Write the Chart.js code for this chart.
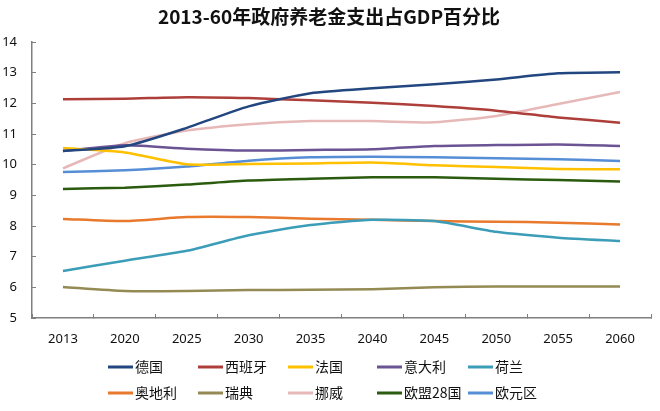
<!DOCTYPE html>
<html>
<head>
<meta charset="utf-8">
<script src="https://cdn.jsdelivr.net/npm/chart.js@4"></script>
<style>
  body { margin: 0; background: #fff; }
  canvas { display: block; }
</style>
</head>
<body>
<canvas id="chart" width="660" height="411"></canvas>
<script>
const years = ['2013', '2020', '2025', '2030', '2035', '2040', '2045', '2050', '2055', '2060'];
const seriesNames = ['德国', '西班牙', '法国', '意大利', '荷兰', '奥地利', '瑞典', '挪威', '欧盟28国', '欧元区'];

const germany = [10.45, 10.6, 11.2, 11.9, 12.33, 12.49, 12.62, 12.78, 12.98, 13.01];
const spain = [12.13, 12.15, 12.2, 12.17, 12.1, 12.02, 11.91, 11.76, 11.54, 11.37];
const france = [10.54, 10.4, 10.01, 10.02, 10.04, 10.07, 9.98, 9.92, 9.86, 9.85];
const italy = [10.44, 10.63, 10.52, 10.46, 10.48, 10.5, 10.61, 10.64, 10.66, 10.61];
const netherlands = [6.53, 6.87, 7.19, 7.7, 8.03, 8.2, 8.16, 7.81, 7.62, 7.51];
const austria = [8.23, 8.16, 8.29, 8.29, 8.24, 8.2, 8.16, 8.14, 8.11, 8.05];
const sweden = [6.01, 5.88, 5.88, 5.91, 5.92, 5.94, 6.0, 6.03, 6.03, 6.03];
const norway = [9.88, 10.7, 11.11, 11.32, 11.42, 11.42, 11.38, 11.59, 11.98, 12.37];
const eu28 = [9.21, 9.25, 9.35, 9.48, 9.54, 9.59, 9.59, 9.54, 9.5, 9.45];
const euroArea = [9.76, 9.82, 9.94, 10.13, 10.24, 10.26, 10.24, 10.21, 10.18, 10.12];

const yMin = 5;
const yMax = 14;
const titleText = '2013-60年政府养老金支出占GDP百分比';

const allSeries = [germany, spain, france, italy, netherlands, austria, sweden, norway, eu28, euroArea];
const colors = ['#22467F', '#AE3E3A', '#FFC000', '#6B5394', '#3C9DB8', '#E8792D', '#948A54', '#E6B9B8', '#2A5B0E', '#558ED5'];

const font = "'Noto Sans', 'Noto Sans CJK SC', sans-serif";

// title + two-row legend drawn straight onto the canvas
const extras = {
    id: 'extras',
    afterDraw(chart) {
        const ctx = chart.ctx;
        ctx.save();
        ctx.fillStyle = '#111';
        ctx.font = "bold 19px 'Noto Sans CJK SC', sans-serif";
        ctx.textAlign = 'center';
        ctx.textBaseline = 'middle';
        ctx.fillText(titleText, 329, 17);

        const colX = [108, 198, 288, 377, 468];
        const rowY = [367, 393];
        ctx.font = "14px 'Noto Sans CJK SC', sans-serif";
        ctx.textAlign = 'left';
        chart.data.datasets.forEach((ds, i) => {
            const x = colX[i % 5];
            const y = rowY[Math.floor(i / 5)];
            ctx.strokeStyle = ds.borderColor;
            ctx.lineWidth = 3;
            ctx.beginPath();
            ctx.moveTo(x, y);
            ctx.lineTo(x + 25, y);
            ctx.stroke();
            ctx.fillStyle = '#111';
            ctx.fillText(ds.label, x + 27, y);
        });
        ctx.restore();
    }
};

new Chart(document.getElementById('chart'), {
    type: 'line',
    data: {
        labels: years,
        datasets: seriesNames.map((name, i) => ({
            label: name,
            data: allSeries[i],
            borderColor: colors[i],
            backgroundColor: colors[i],
            borderWidth: 2.5,
            pointRadius: 0,
            tension: 0.2,
            fill: false
        }))
    },
    options: {
        responsive: false,
        animation: false,
        layout: { padding: { left: 0, right: 9, top: 42, bottom: 63 } },
        plugins: {
            legend: { display: false },
            title: { display: false },
            tooltip: { enabled: false }
        },
        scales: {
            x: {
                offset: true,
                grid: { offset: true, drawOnChartArea: false, tickLength: -4, color: '#7f7f7f', lineWidth: 1 },
                border: { color: '#7f7f7f', width: 1.5 },
                ticks: { autoSkip: false, maxRotation: 0, padding: 17, color: '#111', font: { family: font, size: 13 } },
                afterFit(scale) { scale.height = 30; }
            },
            y: {
                min: yMin,
                max: yMax,
                grid: { drawOnChartArea: false, tickLength: -4, color: '#7f7f7f', lineWidth: 1 },
                border: { color: '#7f7f7f', width: 1.5 },
                ticks: { stepSize: 1, padding: 19, color: '#111', font: { family: font, size: 13 } },
                afterFit(scale) { scale.width = 32; }
            }
        }
    },
    plugins: [extras]
});
</script>
</body>
</html>
